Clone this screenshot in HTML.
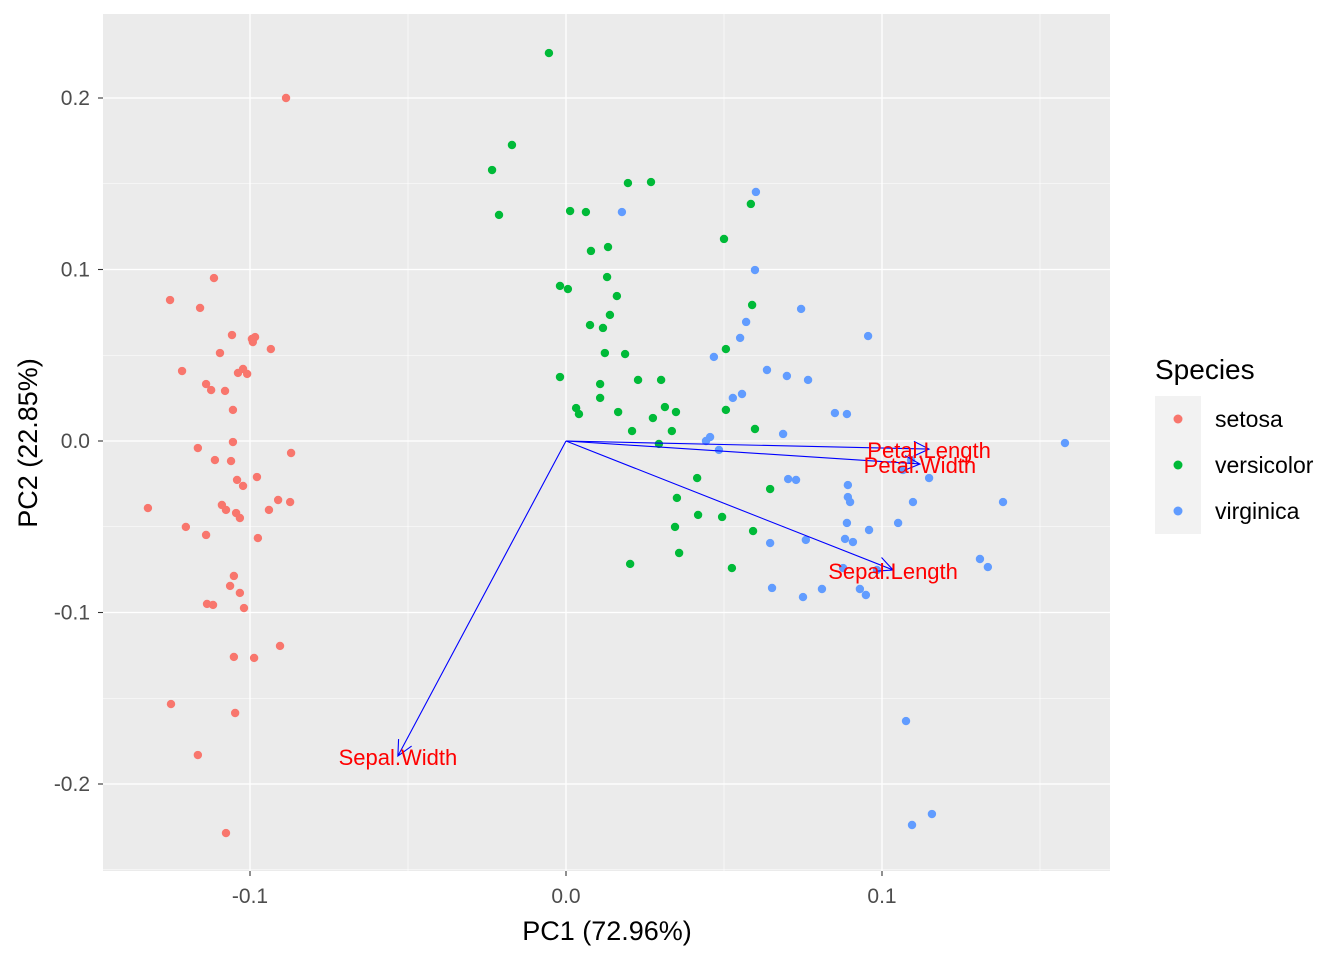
<!DOCTYPE html>
<html><head><meta charset="utf-8"><style>
body{margin:0;background:#fff;}
svg{display:block;font-family:"Liberation Sans",sans-serif;}
</style></head><body>
<svg id="chart" width="1344" height="960"></svg>
<script>
const speciesNames=["setosa","versicolor","virginica"];
const speciesColors=["#F8766D","#00BA38","#619CFF"];
const setosaPC1=[-0.0886,-0.1114,-0.1253,-0.1158,-0.1057,-0.0984,-0.0991,-0.1095,-0.0934,-0.1215,-0.1022,-0.1038,-0.1009,-0.1139,-0.1123,-0.1079,-0.1054,-0.1054,-0.1165,-0.0870,-0.1111,-0.1060,-0.0978,-0.1041,-0.1022,-0.0911,-0.0873,-0.1323,-0.1089,-0.1076,-0.1044,-0.1032,-0.0940,-0.1203,-0.1139,-0.0975,-0.1051,-0.1063,-0.1032,-0.1136,-0.1117,-0.1019,-0.0905,-0.1051,-0.0987,-0.1250,-0.1047,-0.1165,-0.1076,-0.0994];
const setosaPC2=[0.2000,0.0950,0.0822,0.0776,0.0618,0.0606,0.0577,0.0513,0.0536,0.0408,0.0420,0.0397,0.0391,0.0332,0.0297,0.0292,0.0181,-0.0006,-0.0041,-0.0070,-0.0111,-0.0117,-0.0210,-0.0227,-0.0262,-0.0344,-0.0356,-0.0391,-0.0373,-0.0402,-0.0420,-0.0449,-0.0402,-0.0501,-0.0548,-0.0566,-0.0787,-0.0845,-0.0886,-0.0950,-0.0956,-0.0974,-0.1195,-0.1259,-0.1265,-0.1534,-0.1586,-0.1831,-0.2286,0.0595];
const versicolorPC1=[-0.0054,-0.0171,-0.0234,-0.0212,0.0013,0.0063,0.0196,0.0269,0.0133,0.0079,0.0500,0.0585,0.0130,-0.0019,0.0006,0.0161,0.0589,0.0139,0.0076,0.0117,0.0123,0.0187,0.0506,-0.0019,0.0228,0.0301,0.0108,0.0032,0.0041,0.0165,0.0313,0.0275,0.0348,0.0108,0.0506,0.0209,0.0335,0.0598,0.0294,0.0415,0.0646,0.0351,0.0418,0.0494,0.0345,0.0592,0.0358,0.0203,0.0525];
const versicolorPC2=[0.2262,0.1726,0.1580,0.1318,0.1341,0.1335,0.1504,0.1510,0.1131,0.1108,0.1178,0.1382,0.0956,0.0904,0.0886,0.0845,0.0793,0.0735,0.0676,0.0659,0.0513,0.0507,0.0536,0.0373,0.0356,0.0356,0.0332,0.0192,0.0157,0.0169,0.0198,0.0134,0.0169,0.0251,0.0181,0.0058,0.0058,0.0070,-0.0017,-0.0216,-0.0280,-0.0332,-0.0431,-0.0443,-0.0501,-0.0525,-0.0653,-0.0717,-0.0741];
const virginicaPC1=[0.0601,0.0177,0.0598,0.0744,0.0570,0.0551,0.0956,0.0468,0.0636,0.0699,0.0766,0.0557,0.0528,0.0851,0.0889,0.0687,0.0456,0.0443,0.0484,0.0703,0.0728,0.0892,0.1149,0.0892,0.0899,0.1098,0.1383,0.1579,0.1051,0.0889,0.0959,0.0646,0.0759,0.0883,0.0908,0.1310,0.1335,0.0877,0.0984,0.0652,0.0810,0.0750,0.0930,0.0949,0.1076,0.1095,0.1158,0.1092,0.1066];
const virginicaPC2=[0.1452,0.1335,0.0997,0.0770,0.0694,0.0601,0.0612,0.0490,0.0414,0.0379,0.0356,0.0274,0.0251,0.0163,0.0157,0.0041,0.0023,0.0000,-0.0052,-0.0222,-0.0227,-0.0257,-0.0216,-0.0327,-0.0356,-0.0356,-0.0356,-0.0012,-0.0478,-0.0478,-0.0519,-0.0595,-0.0577,-0.0571,-0.0589,-0.0688,-0.0735,-0.0741,-0.0752,-0.0857,-0.0863,-0.0910,-0.0863,-0.0898,-0.1633,-0.2239,-0.2175,-0.0111,-0.0169];
const loadingNames=["Petal.Length","Petal.Width","Sepal.Length","Sepal.Width"];
const loadingPC1=[0.1149,0.1120,0.1035,-0.0532];
const loadingPC2=[-0.0047,-0.0134,-0.0752,-0.1837];
const xTicks=[-0.1,0.0,0.1];
const xTickLabels=["-0.1","0.0","0.1"];
const yTicks=[-0.2,-0.1,0.0,0.1,0.2];
const yTickLabels=["-0.2","-0.1","0.0","0.1","0.2"];

const NS="http://www.w3.org/2000/svg";
const svg=document.getElementById('chart');
const P={l:103,r:1110,t:14,b:871};
const X=v=>566+v*3160;
const Y=v=>441-v*1715;
function mk(tag,attrs,parent){const e=document.createElementNS(NS,tag);for(const k in attrs)e.setAttribute(k,attrs[k]);(parent||svg).appendChild(e);return e;}

const panel=mk('rect',{x:P.l,y:P.t,width:P.r-P.l,height:P.b-P.t,fill:'#EBEBEB'});


const grid=mk('g',{});


for(let v=-0.15;v<=0.16;v+=0.1){mk('line',{x1:X(v),x2:X(v),y1:P.t,y2:P.b,stroke:'#fff','stroke-width':0.6},grid);}
for(let v=-0.25;v<=0.26;v+=0.1){const y=Y(v);if(y>P.t&&y<P.b)mk('line',{x1:P.l,x2:P.r,y1:y,y2:y,stroke:'#fff','stroke-width':0.6},grid);}
xTicks.forEach(v=>mk('line',{x1:X(v),x2:X(v),y1:P.t,y2:P.b,stroke:'#fff','stroke-width':1.3},grid));
yTicks.forEach(v=>mk('line',{x1:P.l,x2:P.r,y1:Y(v),y2:Y(v),stroke:'#fff','stroke-width':1.3},grid));

const xa=mk('g',{});


xTicks.forEach((v,i)=>{
  mk('line',{x1:X(v),x2:X(v),y1:P.b,y2:P.b+5,stroke:'#333','stroke-width':1.1},xa);
  const t=mk('text',{x:X(v),y:P.b+32,'text-anchor':'middle','font-size':21,fill:'#4D4D4D'},xa);t.textContent=xTickLabels[i];
  
  
});
const ya=mk('g',{});


yTicks.forEach((v,i)=>{
  mk('line',{x1:P.l-5,x2:P.l,y1:Y(v),y2:Y(v),stroke:'#333','stroke-width':1.1},ya);
  const t=mk('text',{x:P.l-13,y:Y(v)+7,'text-anchor':'end','font-size':21,fill:'#4D4D4D'},ya);t.textContent=yTickLabels[i];
  
  
});
const xt=mk('text',{x:607,y:940,'text-anchor':'middle','font-size':27,fill:'#000'});xt.textContent='PC1 (72.96%)';


const yt=mk('text',{x:0,y:0,'text-anchor':'middle','font-size':27,fill:'#000',transform:`translate(37,443) rotate(-90)`});yt.textContent='PC2 (22.85%)';



const seriesX=[setosaPC1,versicolorPC1,virginicaPC1];
const seriesY=[setosaPC2,versicolorPC2,virginicaPC2];
seriesX.forEach((xs,s)=>{
  const g=mk('g',{});
  
  
  xs.forEach((v,i)=>{
    const c=mk('circle',{cx:X(v),cy:Y(seriesY[s][i]),r:4.2,fill:speciesColors[s]},g);
    
    
  });
});

const ag=mk('g',{});


loadingNames.forEach((n,i)=>{
  const x1=X(0),y1=Y(0),x2=X(loadingPC1[i]),y2=Y(loadingPC2[i]);
  const a=Math.atan2(y2-y1,x2-x1),L=17,w=0.45;
  const p=mk('path',{d:`M${x1},${y1}L${x2},${y2}M${x2-L*Math.cos(a-w)},${y2-L*Math.sin(a-w)}L${x2},${y2}L${x2-L*Math.cos(a+w)},${y2-L*Math.sin(a+w)}`,stroke:'#0000FF','stroke-width':1.1,fill:'none'},ag);
  
  
});
loadingNames.forEach((n,i)=>{
  const t=mk('text',{x:X(loadingPC1[i]),y:Y(loadingPC2[i])+9,'text-anchor':'middle','font-size':22,fill:'#FF0000'},ag);t.textContent=n;
  
  
});

const lg=mk('g',{});


const lt=mk('text',{x:1155,y:379,'font-size':28,fill:'#000'},lg);lt.textContent='Species';


mk('rect',{x:1155,y:396,width:46,height:138,fill:'#F2F2F2'},lg);
speciesNames.forEach((n,i)=>{
  const y=419+i*46;
  const e=mk('g',{},lg);
  
  
  mk('circle',{cx:1178,cy:y,r:4.5,fill:speciesColors[i]},e);
  const t=mk('text',{x:1215,y:y+8,'font-size':23,fill:'#000'},e);t.textContent=n;
});
</script>
</body></html>
